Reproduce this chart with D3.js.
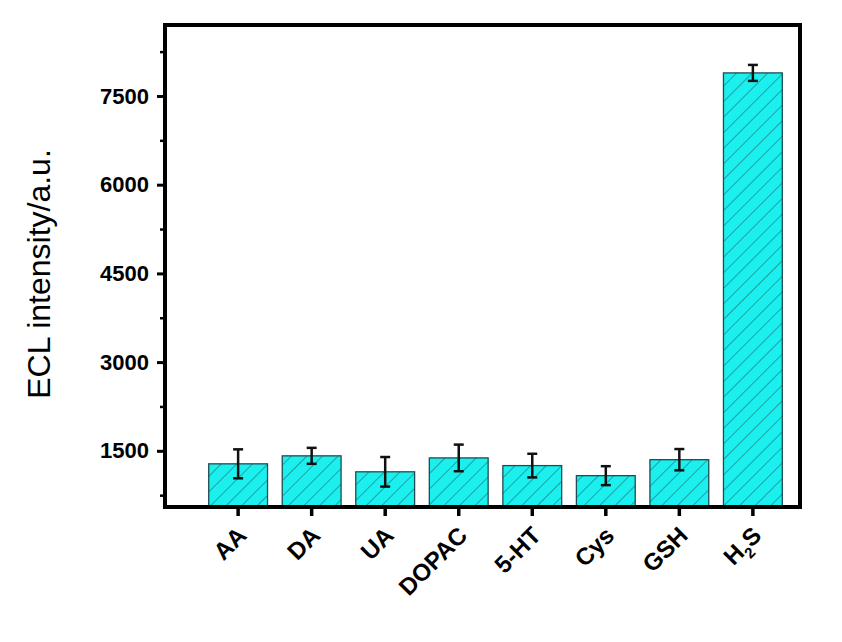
<!DOCTYPE html>
<html><head><meta charset="utf-8">
<script src="https://cdn.jsdelivr.net/npm/d3@7"></script>
<style>body{margin:0;background:#fff}</style>
</head><body>
<svg id="chart" width="842" height="642"></svg>
<script>
const categories = ['AA', 'DA', 'UA', 'DOPAC', '5-HT', 'Cys', 'GSH', 'H2S'];
const values = [1280, 1415, 1145, 1380, 1250, 1080, 1350, 7890];
const errors = [245, 135, 250, 225, 200, 160, 180, 135];
const yTicks = [1500, 3000, 4500, 6000, 7500];

const svg = d3.select('#chart');
const m = {left: 165, right: 800, top: 25, bottom: 507};
const font = 'Liberation Sans, Arial, sans-serif';

const x = d3.scaleBand().domain(categories).range([194, 797]).paddingInner(0.2).paddingOuter(0.2);
const y = d3.scaleLinear().domain([550, 8700]).range([m.bottom, m.top]);

const defs = svg.append('defs');
const pat = defs.append('pattern').attr('id', 'hatch').attr('patternUnits', 'userSpaceOnUse')
    .attr('width', 11).attr('height', 11).attr('patternTransform', 'rotate(45)');
pat.append('rect').attr('width', 11).attr('height', 11).attr('fill', '#1cf0ee');
pat.append('line').attr('x1', 0).attr('y1', 0).attr('x2', 0).attr('y2', 11)
    .attr('stroke', '#1a6e74').attr('stroke-width', 1.2);

svg.append('g').selectAll('rect').data(values).join('rect')
    .attr('x', (d, i) => x(categories[i]))
    .attr('y', d => y(d))
    .attr('width', x.bandwidth())
    .attr('height', d => m.bottom - y(d))
    .attr('fill', 'url(#hatch)')
    .attr('stroke', '#1d4d52').attr('stroke-width', 1.3);

const eb = svg.append('g').attr('stroke', '#111').attr('stroke-width', 2.5);
values.forEach((v, i) => {
    const cx = x(categories[i]) + x.bandwidth() / 2;
    eb.append('line').attr('x1', cx).attr('x2', cx).attr('y1', y(v - errors[i])).attr('y2', y(v + errors[i]));
    [v - errors[i], v + errors[i]].forEach(e =>
        eb.append('line').attr('x1', cx - 5).attr('x2', cx + 5).attr('y1', y(e)).attr('y2', y(e)));
});

// frame
svg.append('rect').attr('x', m.left).attr('y', m.top).attr('width', m.right - m.left)
    .attr('height', m.bottom - m.top).attr('fill', 'none').attr('stroke', '#000').attr('stroke-width', 4);

// y axis
const yAxis = svg.append('g').attr('transform', `translate(${m.left},0)`)
    .call(d3.axisLeft(y).tickValues(yTicks).tickSize(8).tickPadding(8).tickFormat(d3.format('d')));
yAxis.select('.domain').remove();
yAxis.selectAll('line').attr('stroke-width', 3);
yAxis.selectAll('text').attr('font-family', font).attr('font-weight', 'bold').attr('font-size', 22).attr('fill', '#000');
svg.append('g').attr('transform', `translate(${m.left},0)`)
    .call(d3.axisLeft(y).tickValues([750, 2250, 3750, 5250, 6750, 8250]).tickSize(5).tickFormat(''))
    .call(g => g.select('.domain').remove())
    .selectAll('line').attr('stroke-width', 2.5);

// x axis
const xAxis = svg.append('g').attr('transform', `translate(0,${m.bottom})`)
    .call(d3.axisBottom(x).tickSize(9).tickFormat(''));
xAxis.select('.domain').remove();
xAxis.selectAll('line').attr('stroke-width', 3.5);
categories.forEach(c => {
    const t = svg.append('text')
        .attr('transform', `translate(${x(c) + x.bandwidth() / 2 + 10},${m.bottom + 30}) rotate(-45)`)
        .attr('text-anchor', 'end').attr('font-family', font).attr('font-weight', 'bold').attr('font-size', 24);
    if (c === 'H2S') {
        t.append('tspan').text('H');
        t.append('tspan').text('2').attr('font-size', 15).attr('dy', 7);
        t.append('tspan').text('S').attr('dy', -7);
    } else t.text(c);
});

svg.append('text').attr('transform', `translate(50,${(m.top + m.bottom) / 2 + 8}) rotate(-90)`)
    .attr('text-anchor', 'middle').attr('font-family', font).attr('font-size', 32)
    .text('ECL intensity/a.u.');
</script>
</body></html>
